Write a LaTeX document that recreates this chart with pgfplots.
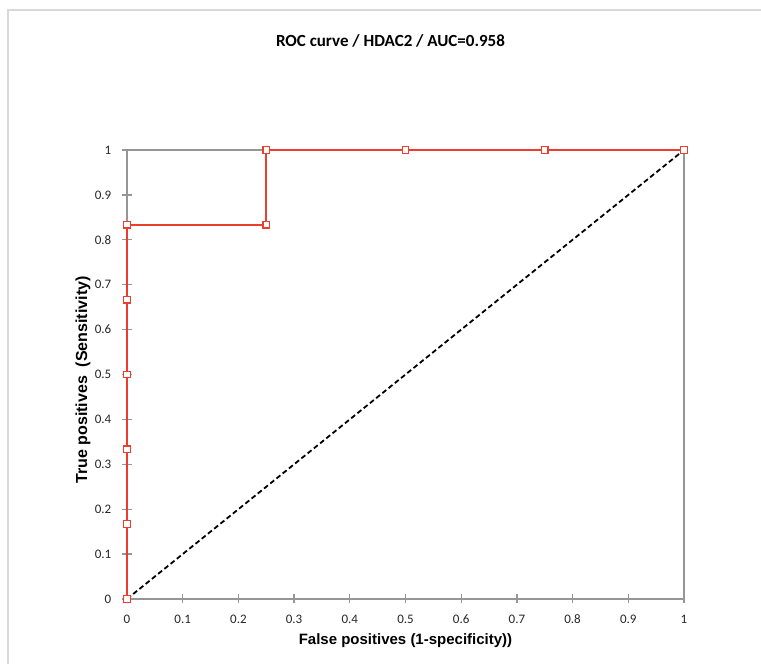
\documentclass[border=0pt]{standalone}
\usepackage{pgfplots}
\pgfplotsset{compat=1.18}
\usepackage{fontspec}
\setmainfont{Carlito}
\newfontfamily\carlito{Carlito}
\newfontfamily\arial{Liberation Sans}
\definecolor{rocred}{RGB}{236,62,46}
\definecolor{axgray}{RGB}{150,150,150}
\definecolor{framegray}{RGB}{217,217,217}
\begin{document}
\begin{tikzpicture}
\path[use as bounding box] (0pt,0pt) rectangle (761pt,664pt);
\draw[framegray, line width=1.5pt] (8pt,-5pt) -- (8pt,654pt) -- (770pt,654pt);
\begin{axis}[
  at={(127pt,65pt)}, anchor=south west,
  scale only axis, width=557pt, height=449pt,
  xmin=0, xmax=1, ymin=0, ymax=1,
  xtick={0,0.1,0.2,0.3,0.4,0.5,0.6,0.7,0.8,0.9,1},
  ytick={0,0.1,0.2,0.3,0.4,0.5,0.6,0.7,0.8,0.9,1},
  xticklabels={0,0.1,0.2,0.3,0.4,0.5,0.6,0.7,0.8,0.9,1},
  yticklabels={0,0.1,0.2,0.3,0.4,0.5,0.6,0.7,0.8,0.9,1},
  xtick pos=lower, ytick pos=left,
  tick align=center, major tick length=9pt,
  axis line style={axgray, line width=1.3pt},
  every tick/.style={draw=axgray, line width=1.3pt},
  tick label style={font=\carlito\fontsize{13}{13}\selectfont, color=black!85},
  xticklabel style={anchor=north, inner sep=0pt, yshift=-11pt},
  yticklabel style={anchor=east, inner sep=0pt, xshift=-11pt},
  clip=false,
]
\addplot[black, line width=1.8pt, dash pattern=on 5pt off 3pt] coordinates {(0,0) (1,1)};
\addplot[rocred, line width=1.8pt, mark=square*, mark size=3.3pt,
  mark options={fill=white, draw=rocred, line width=1.3pt, solid}]
  coordinates {(0,0) (0,0.1667) (0,0.3333) (0,0.5) (0,0.6667) (0,0.8333)
  (0.25,0.8333) (0.25,1) (0.5,1) (0.75,1) (1,1)};
\end{axis}
\node[font=\carlito\bfseries\fontsize{17}{17}\selectfont] at (390.5pt,623pt) {ROC curve / HDAC2 / AUC=0.958};
\node[font=\arial\bfseries\fontsize{15}{15}\selectfont] at (405.5pt,23pt) {False positives (1-specificity))};
\node[font=\arial\bfseries\fontsize{16}{16}\selectfont, rotate=90] at (83pt,284pt) {True positives\ \ (Sensitivity)};
\end{tikzpicture}
\end{document}
